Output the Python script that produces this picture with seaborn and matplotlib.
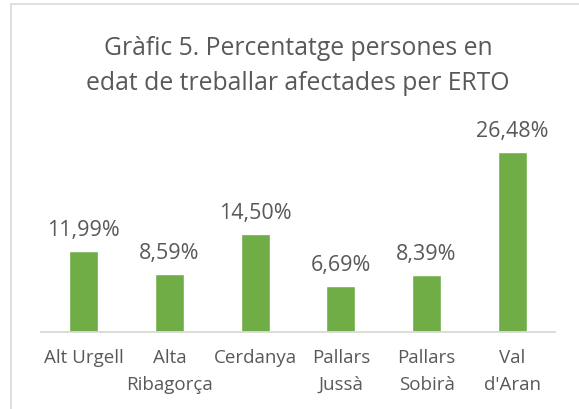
import pandas as pd
import matplotlib.pyplot as plt
import seaborn as sns
from matplotlib.patches import Rectangle

# Data
comarques = ['Alt Urgell', 'Alta\nRibagorça', 'Cerdanya', 'Pallars\nJussà',
             'Pallars\nSobirà', "Val\nd'Aran"]
erto_pct = [11.99, 8.59, 14.50, 6.69, 8.39, 26.48]
title_lines = ['Gràfic 5. Percentatge persones en',
               'edat de treballar afectades per ERTO']

df = pd.DataFrame({'Comarca': comarques, 'ERTO': erto_pct})

sns.set_style("white")
plt.rcParams['font.family'] = ['Open Sans', 'DejaVu Sans']
text_grey = '#595959'
line_grey = '#D9D9D9'

fig = plt.figure(figsize=(5.79, 4.10), dpi=100)
ax = fig.add_axes([0.0708, 0.1885, 0.888, 0.4956])

sns.barplot(data=df, x='Comarca', y='ERTO', color='#70AD47', saturation=1,
            width=0.34, ax=ax)
ax.set_ylim(0, 30)
ax.set_xlim(-0.5, len(comarques) - 0.5)

# Value labels above bars
for i, v in enumerate(erto_pct):
    ax.annotate(f'{v:.2f}%'.replace('.', ','), (i, v), xytext=(0, 11.5),
                textcoords='offset points', ha='center', va='baseline',
                fontsize=15.5, color=text_grey)

for s in ['top', 'right', 'left']:
    ax.spines[s].set_visible(False)
ax.spines['bottom'].set_color(line_grey)
ax.spines['bottom'].set_linewidth(1.3)
ax.set_yticks([])
ax.set_xlabel('')
ax.set_ylabel('')
ax.tick_params(axis='x', length=0, pad=12, labelsize=13.5, labelcolor=text_grey)
for lbl in ax.get_xticklabels():
    lbl.set_linespacing(1.6)

fig.text(0.515, 1 - 55 / 410, title_lines[0], ha='center', va='baseline',
         fontsize=17.8, color=text_grey)
fig.text(0.515, 1 - 90 / 410, title_lines[1], ha='center', va='baseline',
         fontsize=17.8, color=text_grey)

# chart border (cropped on right and bottom)
fig.patches.append(Rectangle((11 / 579, -0.05), 1.1, 1 - 5 / 410 + 0.05,
                             transform=fig.transFigure, fill=False,
                             edgecolor=line_grey, linewidth=1.2))

fig.savefig('out.png', dpi=100)
